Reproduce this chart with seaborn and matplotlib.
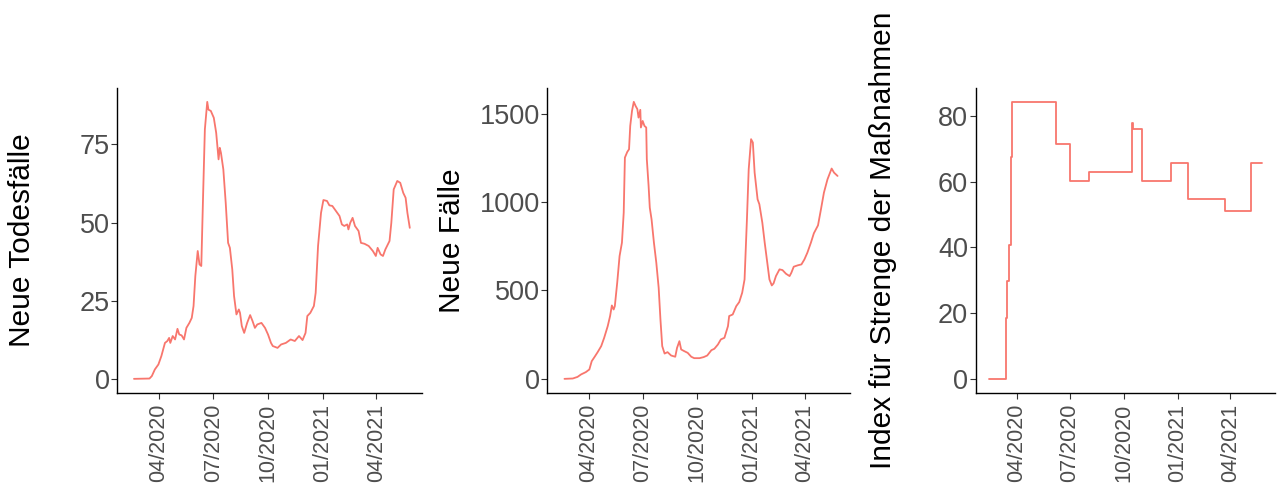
import matplotlib
matplotlib.use("Agg")
import matplotlib.pyplot as plt
import matplotlib.dates as mdates
import pandas as pd
import seaborn as sns

# ---------------- data ----------------
death_dates = [
    "2020-02-19", "2020-03-16", "2020-03-20", "2020-03-25", "2020-03-31", "2020-04-05",
    "2020-04-11", "2020-04-15", "2020-04-18", "2020-04-20", "2020-04-24", "2020-04-28",
    "2020-05-02", "2020-05-05", "2020-05-09", "2020-05-13", "2020-05-17", "2020-05-22",
    "2020-05-26", "2020-05-29", "2020-06-01", "2020-06-05", "2020-06-08", "2020-06-11",
    "2020-06-14", "2020-06-17", "2020-06-21", "2020-06-23", "2020-06-27", "2020-07-02",
    "2020-07-06", "2020-07-10", "2020-07-12", "2020-07-14", "2020-07-18", "2020-07-22",
    "2020-07-26", "2020-07-29", "2020-08-02", "2020-08-05", "2020-08-09", "2020-08-13",
    "2020-08-15", "2020-08-18", "2020-08-22", "2020-08-27", "2020-09-01", "2020-09-05",
    "2020-09-09", "2020-09-13", "2020-09-20", "2020-09-26", "2020-10-01", "2020-10-06",
    "2020-10-09", "2020-10-17", "2020-10-23", "2020-10-31", "2020-11-08", "2020-11-15",
    "2020-11-22", "2020-11-28", "2020-12-03", "2020-12-06", "2020-12-11", "2020-12-17",
    "2020-12-20", "2020-12-24", "2020-12-29", "2021-01-02", "2021-01-08", "2021-01-12",
    "2021-01-17", "2021-01-23", "2021-01-29", "2021-02-02", "2021-02-06", "2021-02-11",
    "2021-02-13", "2021-02-16", "2021-02-20", "2021-02-24", "2021-03-02", "2021-03-06",
    "2021-03-12", "2021-03-19", "2021-03-26", "2021-03-31", "2021-04-03", "2021-04-08",
    "2021-04-12", "2021-04-16", "2021-04-23", "2021-04-26", "2021-04-30", "2021-05-06",
    "2021-05-11", "2021-05-16", "2021-05-20", "2021-05-23", "2021-05-27",
]
death_values = [
    0.0, 0.1, 0.9, 3.0, 4.6, 7.3,
    11.5, 12.1, 13.1, 11.5, 13.7, 12.6,
    16.0, 14.2, 13.9, 12.6, 16.3, 17.9,
    19.5, 23.3, 32.9, 40.9, 36.6, 36.1,
    58.5, 79.8, 88.6, 86.1, 85.7, 83.5,
    78.7, 70.2, 73.9, 72.3, 67.0, 56.3,
    43.5, 41.9, 35.0, 26.5, 20.6, 22.2,
    21.1, 16.9, 14.7, 17.9, 20.4, 18.5,
    16.3, 17.4, 17.9, 16.3, 14.2, 11.5,
    10.5, 9.9, 11.0, 11.5, 12.6, 12.1,
    13.7, 12.4, 14.7, 20.1, 21.1, 23.3,
    27.5, 42.5, 53.1, 57.2, 56.9, 55.5,
    55.3, 53.7, 52.1, 49.4, 48.9, 49.4,
    47.8, 49.9, 51.5, 48.9, 47.3, 43.5,
    43.2, 42.5, 40.9, 39.3, 41.9, 39.8,
    39.3, 41.4, 44.1, 49.9, 60.6, 63.3,
    62.7, 59.5, 57.9, 53.1, 48.3,
]

case_dates = [
    "2020-02-20", "2020-03-05", "2020-03-13", "2020-03-19", "2020-03-27", "2020-04-02",
    "2020-04-06", "2020-04-11", "2020-04-16", "2020-04-22", "2020-04-27", "2020-05-03",
    "2020-05-07", "2020-05-10", "2020-05-13", "2020-05-15", "2020-05-19", "2020-05-23",
    "2020-05-27", "2020-05-30", "2020-06-01", "2020-06-05", "2020-06-08", "2020-06-10",
    "2020-06-13", "2020-06-16", "2020-06-19", "2020-06-22", "2020-06-24", "2020-06-27",
    "2020-06-28", "2020-07-01", "2020-07-04", "2020-07-07", "2020-07-08", "2020-07-11",
    "2020-07-13", "2020-07-16", "2020-07-20", "2020-07-24", "2020-07-28", "2020-07-31",
    "2020-08-03", "2020-08-07", "2020-08-12", "2020-08-18", "2020-08-25", "2020-08-28",
    "2020-09-01", "2020-09-04", "2020-09-09", "2020-09-15", "2020-09-21", "2020-09-26",
    "2020-10-05", "2020-10-12", "2020-10-18", "2020-10-25", "2020-10-30", "2020-11-05",
    "2020-11-10", "2020-11-16", "2020-11-22", "2020-11-24", "2020-11-30", "2020-12-06",
    "2020-12-11", "2020-12-16", "2020-12-20", "2020-12-24", "2020-12-27", "2020-12-31",
    "2021-01-03", "2021-01-06", "2021-01-11", "2021-01-14", "2021-01-19", "2021-01-23",
    "2021-01-27", "2021-01-31", "2021-02-04", "2021-02-07", "2021-02-11", "2021-02-17",
    "2021-02-22", "2021-02-28", "2021-03-06", "2021-03-09", "2021-03-13", "2021-03-20",
    "2021-03-26", "2021-03-31", "2021-04-05", "2021-04-11", "2021-04-16", "2021-04-23",
    "2021-04-28", "2021-05-03", "2021-05-09", "2021-05-16", "2021-05-20", "2021-05-26",
]
case_values = [
    0, 2, 11, 25, 38, 53,
    100, 125, 151, 185, 232, 298,
    355, 415, 392, 411, 543, 694,
    770, 940, 1251, 1283, 1298, 1430,
    1515, 1566, 1543, 1525, 1477, 1521,
    1421, 1458, 1430, 1421, 1242, 1091,
    968, 902, 770, 657, 515, 336,
    185, 143, 151, 132, 125, 175,
    213, 166, 157, 147, 125, 117,
    117, 123, 132, 162, 170, 194,
    223, 232, 298, 355, 364, 411,
    434, 487, 562, 902, 1185, 1355,
    1336, 1166, 1015, 987, 883, 770,
    666, 562, 528, 540, 581, 619,
    615, 594, 581, 600, 634, 642,
    647, 675, 713, 770, 823, 868,
    959, 1053, 1128, 1189, 1166, 1147,
]

stringency_dates = [
    "2020-02-14", "2020-03-13", "2020-03-16", "2020-03-18", "2020-03-22", "2020-03-24",
    "2020-06-07", "2020-07-01", "2020-08-02", "2020-10-15", "2020-10-17", "2020-11-01",
    "2020-12-21", "2021-01-18", "2021-03-22", "2021-05-06", "2021-05-24",
]
stringency_values = [
    0.0, 18.52, 29.63, 40.74, 67.59, 84.26,
    71.30, 60.19, 62.96, 77.78, 75.93, 60.19,
    65.74, 54.63, 50.93, 65.74, 65.74,
]

tick_dates = ["2020-04-01", "2020-07-01", "2020-10-01", "2021-01-01", "2021-04-01"]
y_labels = ["Neue Todesfälle", "Neue Fälle", "Index für Strenge der Maßnahmen"]
y_ticks = [[0, 25, 50, 75], [0, 500, 1000, 1500], [0, 20, 40, 60, 80]]

# ---------------- style ----------------
sns.set_theme(style="white")
plt.rcParams["font.family"] = ["Liberation Sans", "DejaVu Sans"]

LINE = "#F8766D"
fig = plt.figure(figsize=(12.78, 4.83), dpi=100)
W, H = 1278.0, 483.0
panels_px = [(117.3, 421.7), (547.3, 850.0), (975.7, 1275.0)]
top_px, bot_px = 88.0, 392.7
label_x = [-0.314, -0.316, -0.311]

series = [
    (death_dates, death_values, None),
    (case_dates, case_values, None),
    (stringency_dates, stringency_values, "steps-post"),
]

xlim = (pd.Timestamp("2020-01-22"), pd.Timestamp("2021-06-16"))

for i, ((l, r), (d, v, ds)) in enumerate(zip(panels_px, series)):
    ax = fig.add_axes([l / W, 1 - bot_px / H, (r - l) / W, (bot_px - top_px) / H])
    df = pd.DataFrame({"date": pd.to_datetime(d), "value": v})
    kw = {}
    if ds:
        kw["drawstyle"] = ds
    sns.lineplot(data=df, x="date", y="value", ax=ax, color=LINE,
                 linewidth=1.3, estimator=None, **kw)
    vmin, vmax = min(v), max(v)
    pad = 0.05 * (vmax - vmin)
    ax.set_ylim(vmin - pad, vmax + pad)
    ax.set_xlim(*xlim)
    ax.set_yticks(y_ticks[i])
    ax.set_xticks(pd.to_datetime(tick_dates))
    ax.xaxis.set_major_formatter(mdates.DateFormatter("%m/%Y"))
    for s in ["top", "right"]:
        ax.spines[s].set_visible(False)
    for s in ["left", "bottom"]:
        ax.spines[s].set_color("black")
        ax.spines[s].set_linewidth(1.0)
    ax.tick_params(axis="both", which="major", length=4.0, width=0.8,
                   color="#333333", labelcolor="#4D4D4D",
                   left=True, bottom=True)
    ax.tick_params(axis="y", pad=1.5, labelsize=19.5)
    ax.tick_params(axis="x", pad=4.0, labelsize=15.5)
    for lab in ax.get_xticklabels():
        lab.set_rotation(90)
        lab.set_ha("center")
        lab.set_va("top")
    ax.set_xlabel("")
    ax.set_ylabel(y_labels[i], fontsize=21.5, color="black")
    ax.yaxis.label.set_va("center")
    ax.yaxis.set_label_coords(label_x[i], 0.5)
    ax.grid(False)

fig.savefig("out.png", dpi=100, facecolor="white")
